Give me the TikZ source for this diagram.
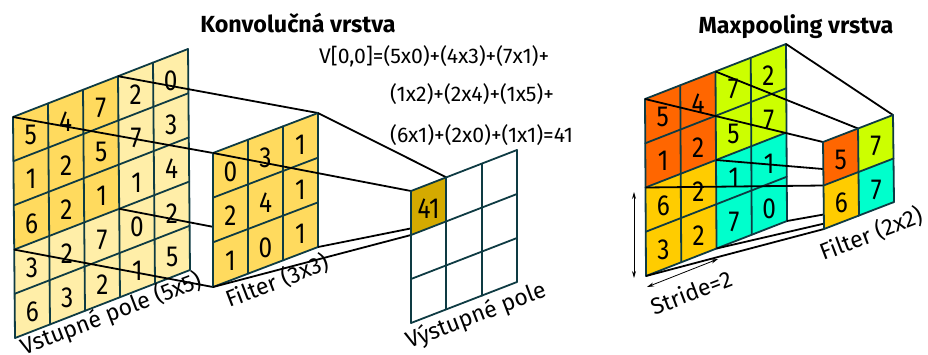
\documentclass[tikz,border=0pt]{standalone}
\usepackage{fontspec}
\setmainfont{Fira Sans}
\newfontfamily\digitfont{Fira Sans}[FakeStretch=0.84]
\usetikzlibrary{arrows.meta,calc}
\definecolor{gridline}{HTML}{0E3B43}
\definecolor{ydark}{HTML}{FFDA5E}
\definecolor{ylight}{HTML}{FFEEA8}
\definecolor{gold}{HTML}{D4AA00}
\definecolor{mporange}{HTML}{FF6600}
\definecolor{mplime}{HTML}{CCFF00}
\definecolor{mpyellow}{HTML}{FFCC00}
\definecolor{mpcyan}{HTML}{00FFCC}
\tikzset{
  gridl/.style={draw=gridline, line width=1.8pt, line cap=round, line join=round},
  conn/.style={draw=black, line width=1.8pt},
  digit/.style={font=\digitfont\fontsize{29}{29}\selectfont, inner sep=0pt},
  lbl/.style={font=\fontsize{23}{23}\selectfont, rotate=21, inner sep=0pt},
  ttl/.style={font=\bfseries\fontsize{23.3}{23.3}\selectfont, inner sep=0pt, anchor=base},
  formula/.style={font=\fontsize{21.2}{21.2}\selectfont, inner sep=0pt, anchor=west},
  dbl/.style={line width=0.8pt, {Stealth[length=7pt,width=4pt]}-{Stealth[length=7pt,width=4pt]}},
}
\begin{document}
\begin{tikzpicture}[x=1pt,y=-1pt]
\useasboundingbox (0,0) rectangle (928,354);

% ---------------- input grid 5x5
\begin{scope}[shift={(13pt,-117pt)}, x={(35pt,13.6pt)}, y={(0.4pt,-44.2pt)}]
  \foreach \v [count=\n from 0] in {5,4,7,2,0, 1,2,5,7,3, 6,2,1,1,4, 3,2,7,0,2, 6,3,2,1,5}{
    \pgfmathtruncatemacro\i{mod(\n,5)}
    \pgfmathtruncatemacro\j{div(\n,5)}
    \pgfmathsetmacro\dk{(\i<3)&&(\j<3)}
    \ifdim\dk pt>0.5pt \def\cc{ydark}\else\def\cc{ylight}\fi
    \fill[\cc] (\i,\j) -- ++(1,0) -- ++(0,1) -- ++(-1,0) -- cycle;
    \node[digit] (in-v-\i-\j) at (\i+0.5,\j+0.56) {\v};
  }
  \foreach \k in {0,...,5}{
    \draw[gridl] (\k,0) -- (\k,5);
    \draw[gridl] (0,\k) -- (5,\k);
  }
  \foreach \i in {0,...,5}{\foreach \j in {0,...,5}{\coordinate (in-\i-\j) at (\i,\j);}}
\end{scope}

% ---------------- filter 3x3 corner coordinates
\begin{scope}[shift={(213pt,-153pt)}, x={(35pt,13.33pt)}, y={(0pt,-44.67pt)}]
  \foreach \i in {0,...,3}{\foreach \j in {0,...,3}{\coordinate (f-\i-\j) at (\i,\j);}}
\end{scope}

% connectors input -> filter
\draw[conn] (in-0-0) -- (f-0-0);
\draw[conn] (in-3-0) -- (f-3-0);
\draw[conn] (in-0-3) -- (f-0-3);
\draw[conn] (in-3-3) -- (f-3-3);

% filter grid
\begin{scope}[shift={(213pt,-153pt)}, x={(35pt,13.33pt)}, y={(0pt,-44.67pt)}]
  \foreach \v [count=\n from 0] in {0,3,1, 2,4,1, 1,0,1}{
    \pgfmathtruncatemacro\i{mod(\n,3)}
    \pgfmathtruncatemacro\j{div(\n,3)}
    \fill[ydark] (\i,\j) -- ++(1,0) -- ++(0,1) -- ++(-1,0) -- cycle;
    \node[digit] (f-v-\i-\j) at (\i+0.5,\j+0.56) {\v};
  }
  \foreach \k in {0,...,3}{
    \draw[gridl] (\k,0) -- (\k,3);
    \draw[gridl] (0,\k) -- (3,\k);
  }
\end{scope}

% output 3x3 coordinates
\begin{scope}[shift={(411pt,-191pt)}, x={(35.33pt,13.67pt)}, y={(0pt,-44pt)}]
  \foreach \i in {0,...,3}{\foreach \j in {0,...,3}{\coordinate (o-\i-\j) at (\i,\j);}}
\end{scope}

% connectors filter -> output
\draw[conn] (f-0-0) -- (o-0-0);
\draw[conn] (f-3-0) -- (o-1-0);
\draw[conn] (f-0-3) -- (o-0-1);
\draw[conn] (f-3-3) -- (o-1-1);

% output grid
\begin{scope}[shift={(411pt,-191pt)}, x={(35.33pt,13.67pt)}, y={(0pt,-44pt)}]
  \fill[white] (0,0) -- (3,0) -- (3,3) -- (0,3) -- cycle;
  \fill[gold] (0,0) -- (1,0) -- (1,1) -- (0,1) -- cycle;
  \node[digit] (o-v-0-0) at (0.5,0.56) {41};
  \foreach \k in {0,...,3}{
    \draw[gridl] (\k,0) -- (\k,3);
    \draw[gridl] (0,\k) -- (3,\k);
  }
\end{scope}

% ---------------- maxpool grid 4x4
\begin{scope}[shift={(645pt,-99pt)}, x={(35.25pt,13.75pt)}, y={(0.25pt,-44.25pt)}]
  \foreach \v/\cc [count=\n from 0] in {5/mporange,4/mporange,7/mplime,2/mplime,
      1/mporange,2/mporange,5/mplime,7/mplime,
      6/mpyellow,2/mpyellow,1/mpcyan,1/mpcyan,
      3/mpyellow,2/mpyellow,7/mpcyan,0/mpcyan}{
    \pgfmathtruncatemacro\i{mod(\n,4)}
    \pgfmathtruncatemacro\j{div(\n,4)}
    \fill[\cc] (\i,\j) -- ++(1,0) -- ++(0,1) -- ++(-1,0) -- cycle;
    \node[digit] (mp-v-\i-\j) at (\i+0.5,\j+0.56) {\v};
  }
  \foreach \k in {0,...,4}{
    \draw[gridl] (\k,0) -- (\k,4);
    \draw[gridl] (0,\k) -- (4,\k);
  }
  \foreach \i in {0,...,4}{\foreach \j in {0,...,4}{\coordinate (mp-\i-\j) at (\i,\j);}}
\end{scope}

% pooled 2x2 coordinates
\begin{scope}[shift={(823pt,-142pt)}, x={(35pt,13.5pt)}, y={(0.5pt,-43.5pt)}]
  \foreach \i in {0,...,2}{\foreach \j in {0,...,2}{\coordinate (p-\i-\j) at (\i,\j);}}
\end{scope}

% connectors maxpool -> pooled
\draw[conn] (mp-0-0) -- (p-0-0);
\draw[conn] (mp-2-0) -- (p-1-0);
\draw[conn] (mp-4-0) -- (p-2-0);
\draw[conn] (mp-2-2) -- (p-1-1);
\draw[conn] (mp-0-2) -- (p-0-1);
\draw[conn] (mp-0-4) -- (p-0-2);
\draw[conn] (mp-2-4) -- (p-1-2);
\draw[conn] (mp-4-4) -- (p-2-2);

% pooled grid
\begin{scope}[shift={(823pt,-142pt)}, x={(35pt,13.5pt)}, y={(0.5pt,-43.5pt)}]
  \foreach \v/\cc [count=\n from 0] in {5/mporange,7/mplime,6/mpyellow,7/mpcyan}{
    \pgfmathtruncatemacro\i{mod(\n,2)}
    \pgfmathtruncatemacro\j{div(\n,2)}
    \fill[\cc] (\i,\j) -- ++(1,0) -- ++(0,1) -- ++(-1,0) -- cycle;
    \node[digit] (p-v-\i-\j) at (\i+0.5,\j+0.56) {\v};
  }
  \foreach \k in {0,...,2}{
    \draw[gridl] (\k,0) -- (\k,2);
    \draw[gridl] (0,\k) -- (2,\k);
  }
\end{scope}

% arrows
\coordinate (va1) at (634,192);
\coordinate (va2) at (634,278);
\draw[dbl] (va1) -- (va2);
\coordinate (sa1) at (647,287);
\coordinate (sa2) at (718,259);
\draw[dbl] (sa1) -- (sa2);

% texts
\node[ttl] (t1) at (298,32) {Konvolučná vrstva};
\node[ttl] (t2) at (796,33) {Maxpooling vrstva};
\node[formula] (fm1) at (319,56) {V[0,0]=(5x0)+(4x3)+(7x1)+};
\node[formula] (fm2) at (390,94) {(1x2)+(2x4)+(1x5)+};
\node[formula] (fm3) at (390,135) {(6x1)+(2x0)+(1x1)=41};

\node[lbl] (l1) at (111,314) {Vstupné pole (5x5)};
\node[lbl] (l2) at (277,281) {Filter (3x3)};
\node[lbl] (l3) at (476,316) {Výstupné pole};
\node[lbl] (l4) at (691,292) {Stride=2};
\node[lbl] (l5) at (871,234) {Filter (2x2)};
\end{tikzpicture}
\end{document}
